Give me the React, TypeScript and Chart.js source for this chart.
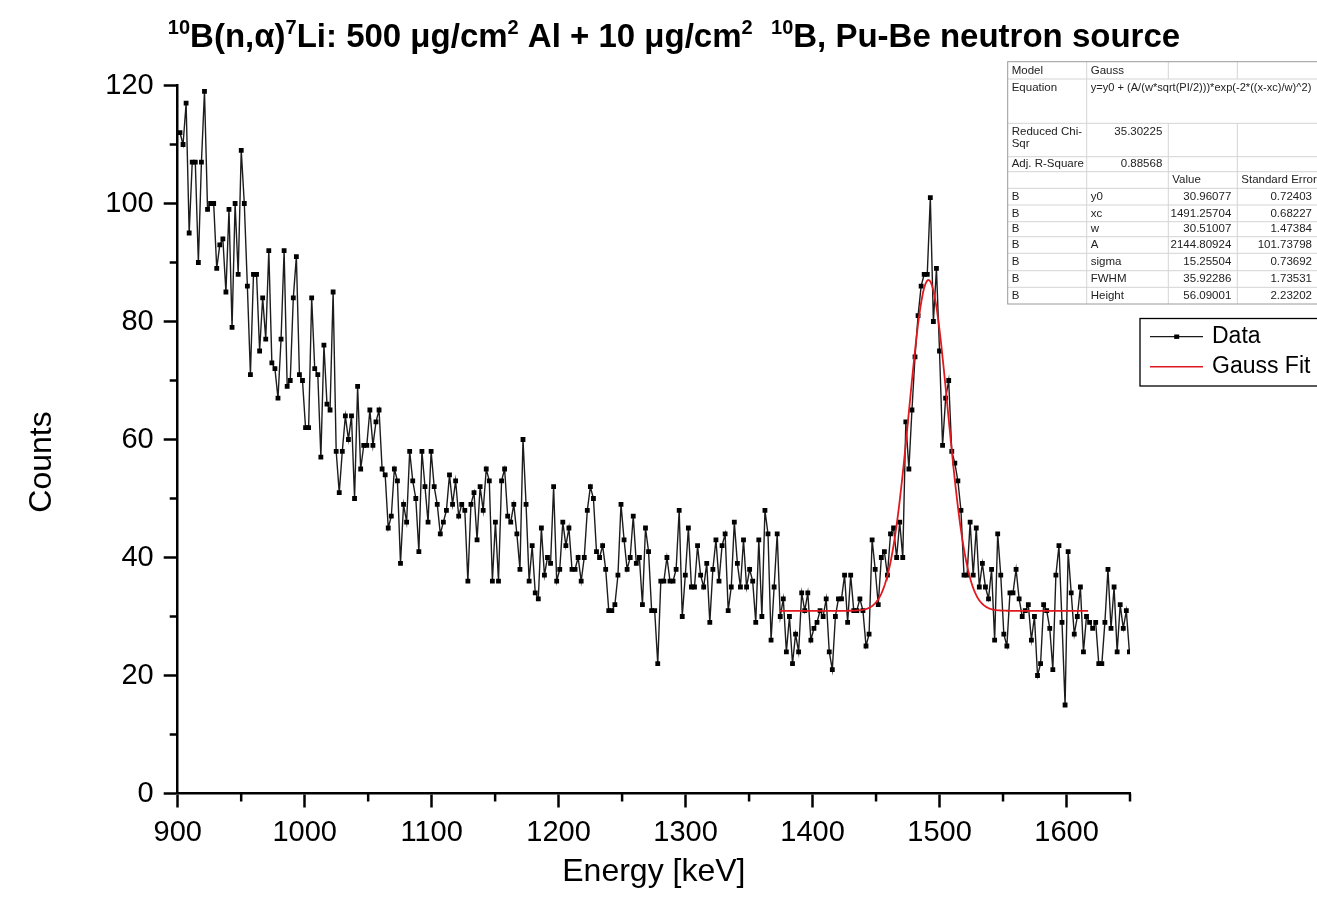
import React, { useEffect, useRef } from "react";
import { Chart, registerables } from "chart.js";
Chart.register(...registerables);

// ---- data ----
const energyStartKeV = 901.8; // energy of first channel
const energyStepKeV = 2.412; // keV per channel
const counts = [
  112, 110, 117, 95, 107, 107, 90, 107, 119, 99, 100, 100, 89, 93, 94, 85, 99, 79, 100, 88,
  109, 100, 86, 71, 88, 88, 75, 84, 77, 92, 73, 72, 67, 77, 92, 69, 70, 84, 91, 71,
  70, 62, 62, 84, 72, 71, 57, 76, 66, 65, 85, 58, 51, 58, 64, 60, 64, 50, 69, 55,
  59, 59, 65, 59, 63, 65, 55, 54, 45, 47, 55, 53, 39, 49, 46, 58, 53, 50, 41, 58,
  52, 46, 58, 52, 49, 44, 46, 48, 54, 49, 53, 47, 49, 48, 36, 49, 51, 43, 52, 48,
  55, 53, 36, 46, 36, 53, 55, 47, 46, 49, 44, 38, 60, 49, 36, 42, 34, 33, 45, 37,
  40, 39, 52, 36, 38, 46, 42, 45, 38, 38, 40, 36, 40, 48, 52, 50, 41, 40, 42, 38,
  31, 31, 32, 37, 49, 43, 38, 40, 47, 39, 40, 32, 45, 41, 31, 31, 22, 36, 36, 40,
  36, 36, 38, 48, 30, 37, 45, 35, 35, 42, 37, 35, 39, 29, 38, 43, 36, 42, 44, 31,
  35, 46, 39, 35, 43, 35, 38, 36, 29, 43, 30, 48, 44, 26, 35, 44, 30, 33, 24, 30,
  22, 27, 24, 34, 31, 34, 26, 28, 29, 31, 30, 33, 24, 21, 30, 33, 33, 37, 29, 37,
  31, 31, 33, 31, 25, 27, 43, 38, 32, 40, 41, 37, 44, 45, 40, 46, 40, 63, 55, 65,
  74, 81, 86, 88, 88, 101, 80, 89, 75, 59, 67, 70, 58, 56, 53, 48, 37, 37, 46, 37,
  45, 35, 39, 35, 33, 38, 26, 44, 37, 27, 25, 34, 34, 38, 33, 30, 31, 32, 26, 30,
  20, 22, 32, 31, 28, 21, 37, 42, 29, 15, 41, 34, 27, 30, 35, 24, 30, 29, 28, 29,
  22, 22, 29, 38, 28, 35, 24, 32, 28, 31, 24,
];

// Gauss fit parameters (from the fit table)
const fitY0 = 30.96077;
const fitXc = 1491.25704;
const fitW = 30.51007;
const fitA = 2144.80924;
const fitRangeKeV = [1374, 1617];

const xTickValues = [900, 1000, 1100, 1200, 1300, 1400, 1500, 1600];
const yTickValues = [0, 20, 40, 60, 80, 100, 120];
const xMinorTicks = [950, 1050, 1150, 1250, 1350, 1450, 1550, 1650];
const yMinorTicks = [10, 30, 50, 70, 90, 110];

const tableRows: string[][] = [
  ["Model", "Gauss", "", ""],
  ["Equation", "y=y0 + (A/(w*sqrt(PI/2)))*exp(-2*((x-xc)/w)^2)", "", ""],
  ["Reduced Chi-|Sqr", "35.30225", "", ""],
  ["Adj. R-Square", "0.88568", "", ""],
  ["", "", "Value", "Standard Error"],
  ["B", "y0", "30.96077", "0.72403"],
  ["B", "xc", "1491.25704", "0.68227"],
  ["B", "w", "30.51007", "1.47384"],
  ["B", "A", "2144.80924", "101.73798"],
  ["B", "sigma", "15.25504", "0.73692"],
  ["B", "FWHM", "35.92286", "1.73531"],
  ["B", "Height", "56.09001", "2.23202"],
];

const FONT = "'Liberation Sans', Arial, sans-serif";

function buildDataPoints() {
  return counts.map((c, i) => ({ x: energyStartKeV + i * energyStepKeV, y: c }));
}

function buildFitPoints() {
  const pts: { x: number; y: number }[] = [];
  for (let e = fitRangeKeV[0]; e <= fitRangeKeV[1]; e += 1) {
    const y =
      fitY0 +
      (fitA / (fitW * Math.sqrt(Math.PI / 2))) * Math.exp(-2 * Math.pow((e - fitXc) / fitW, 2));
    pts.push({ x: e, y });
  }
  return pts;
}

const decorPlugin = {
  id: "decor",
  afterDraw(chart: any) {
    const ctx: CanvasRenderingContext2D = chart.ctx;
    const area = chart.chartArea;
    const xs = chart.scales.x;
    const ys = chart.scales.y;
    ctx.save();

    // minor ticks
    ctx.strokeStyle = "#000";
    ctx.lineWidth = 2.5;
    ctx.lineCap = "butt";
    for (const v of yMinorTicks) {
      const py = ys.getPixelForValue(v);
      ctx.beginPath();
      ctx.moveTo(area.left - 8, py);
      ctx.lineTo(area.left, py);
      ctx.stroke();
    }
    for (const v of xMinorTicks) {
      const px = xs.getPixelForValue(v);
      ctx.beginPath();
      ctx.moveTo(px, area.bottom);
      ctx.lineTo(px, area.bottom + 8);
      ctx.stroke();
    }

    // title with superscripts
    const S = 33;
    const sup = 0.6;
    const parts: [string, boolean][] = [
      ["10", true],
      ["B(n,α)", false],
      ["7", true],
      ["Li: 500 μg/cm", false],
      ["2", true],
      [" Al + 10 μg/cm", false],
      ["2", true],
      ["  ", false],
      ["10", true],
      ["B, Pu-Be neutron source", false],
    ];
    let total = 0;
    for (const [t, s] of parts) {
      ctx.font = `bold ${s ? Math.round(S * sup) : S}px ${FONT}`;
      total += ctx.measureText(t).width;
    }
    let tx = 674 - total / 2;
    const base = 47;
    ctx.fillStyle = "#000";
    ctx.textBaseline = "alphabetic";
    ctx.textAlign = "left";
    for (const [t, s] of parts) {
      ctx.font = `bold ${s ? Math.round(S * sup) : S}px ${FONT}`;
      ctx.fillText(t, tx, s ? base - S * 0.38 : base);
      tx += ctx.measureText(t).width;
    }

    // axis titles
    ctx.font = `32px ${FONT}`;
    ctx.textAlign = "center";
    ctx.textBaseline = "middle";
    ctx.fillText("Energy [keV]", (area.left + area.right) / 2, 872);
    ctx.save();
    ctx.translate(42, 462);
    ctx.rotate(-Math.PI / 2);
    ctx.fillText("Counts", 0, 0);
    ctx.restore();

    // fit table
    const colX = [1007.7, 1086.7, 1168.3, 1237.3, 1318];
    const rowY = [61.7, 79, 123.3, 156.7, 171.7, 188.3, 205, 221.7, 236.7, 253.3, 270.7, 287.3, 304];
    ctx.lineWidth = 1;
    ctx.strokeStyle = "#d4d4d4";
    for (let r = 1; r < rowY.length - 1; r++) {
      ctx.beginPath();
      ctx.moveTo(colX[0], rowY[r]);
      ctx.lineTo(colX[4], rowY[r]);
      ctx.stroke();
    }
    for (let c = 1; c < 4; c++) {
      ctx.beginPath();
      if (c === 1) {
        ctx.moveTo(colX[c], rowY[0]);
        ctx.lineTo(colX[c], rowY[rowY.length - 1]);
      } else {
        ctx.moveTo(colX[c], rowY[0]);
        ctx.lineTo(colX[c], rowY[1]);
        ctx.moveTo(colX[c], rowY[2]);
        ctx.lineTo(colX[c], rowY[rowY.length - 1]);
      }
      ctx.stroke();
    }
    ctx.strokeStyle = "#9a9a9a";
    ctx.strokeRect(colX[0], rowY[0], colX[4] - colX[0], rowY[rowY.length - 1] - rowY[0]);

    ctx.fillStyle = "#222";
    ctx.textBaseline = "middle";
    tableRows.forEach((row, r) => {
      const top = rowY[r];
      const bottom = rowY[r + 1];
      const tall = bottom - top > 20;
      row.forEach((cell, c) => {
        if (!cell) return;
        const lines = cell.split("|");
        const isNum = /^[0-9.]+$/.test(cell);
        lines.forEach((ln, li) => {
          const cy = tall ? top + 8.5 + li * 11.6 : (top + bottom) / 2;
          ctx.font = `11.5px ${FONT}`;
          if (r === 1 && c === 1) {
            const w = ctx.measureText(ln).width;
            const fs = (11.5 * 221) / w;
            ctx.font = `${fs}px ${FONT}`;
          }
          if (isNum) {
            ctx.textAlign = "right";
            ctx.fillText(ln, colX[c + 1] - 6, cy);
          } else {
            ctx.textAlign = "left";
            ctx.fillText(ln, colX[c] + 4, cy);
          }
        });
      });
    });

    // legend
    ctx.strokeStyle = "#000";
    ctx.lineWidth = 1.3;
    ctx.strokeRect(1140, 318.5, 200, 67.5);
    ctx.strokeStyle = "#1a1a1a";
    ctx.beginPath();
    ctx.moveTo(1150, 336.7);
    ctx.lineTo(1203, 336.7);
    ctx.stroke();
    ctx.fillStyle = "#000";
    ctx.fillRect(1176.7 - 2.5, 336.7 - 2.2, 5, 4.4);
    ctx.strokeStyle = "#e0191e";
    ctx.lineWidth = 1.6;
    ctx.beginPath();
    ctx.moveTo(1150, 366.7);
    ctx.lineTo(1203, 366.7);
    ctx.stroke();
    ctx.font = `23px ${FONT}`;
    ctx.fillStyle = "#000";
    ctx.textAlign = "left";
    ctx.textBaseline = "middle";
    ctx.fillText("Data", 1212, 337);
    ctx.fillText("Gauss Fit", 1212, 367);

    ctx.restore();
  },
};

export default function App() {
  const ref = useRef<HTMLCanvasElement | null>(null);
  useEffect(() => {
    if (!ref.current) return;
    const chart = new Chart(ref.current, {
      type: "line",
      data: {
        datasets: [
          {
            label: "Gauss Fit",
            data: buildFitPoints(),
            borderColor: "#e0191e",
            borderWidth: 1.8,
            pointRadius: 0,
            tension: 0,
            order: 0,
          },
          {
            label: "Data",
            data: buildDataPoints(),
            borderColor: "#1c1c1c",
            borderWidth: 1.4,
            pointStyle: "rect",
            pointRadius: 3.4,
            pointBackgroundColor: "#000",
            pointBorderColor: "#000",
            pointBorderWidth: 0,
            tension: 0,
            order: 1,
          },
        ],
      },
      options: {
        responsive: false,
        animation: false,
        events: [],
        layout: { padding: { top: 85.5, right: 187, bottom: 0, left: 0 } },
        plugins: {
          legend: { display: false },
          tooltip: { enabled: false },
          title: { display: false },
        },
        scales: {
          x: {
            type: "linear",
            min: 900,
            max: 1650,
            afterFit: (s: any) => {
              s.height = 911 - 793.5;
            },
            afterBuildTicks: (s: any) => {
              s.ticks = xTickValues.map((v) => ({ value: v }));
            },
            ticks: {
              font: { family: FONT, size: 29 },
              color: "#000",
              padding: 8,
              autoSkip: false,
              maxRotation: 0,
              callback: (v: any) => String(v),
            },
            grid: {
              display: true,
              drawOnChartArea: false,
              drawTicks: true,
              tickLength: 14,
              tickWidth: 2.5,
              tickColor: "#000",
            },
            border: { display: true, color: "#000", width: 2.5 },
          },
          y: {
            type: "linear",
            min: 0,
            max: 120,
            afterFit: (s: any) => {
              s.width = 177.7;
            },
            afterBuildTicks: (s: any) => {
              s.ticks = yTickValues.map((v) => ({ value: v }));
            },
            ticks: {
              font: { family: FONT, size: 29 },
              color: "#000",
              padding: 10,
              callback: (v: any) => String(v),
            },
            grid: {
              display: true,
              drawOnChartArea: false,
              drawTicks: true,
              tickLength: 14,
              tickWidth: 2.5,
              tickColor: "#000",
            },
            border: { display: true, color: "#000", width: 2.5 },
          },
        },
      },
      plugins: [decorPlugin],
    });
    return () => chart.destroy();
  }, []);
  return (
    <div style={{ position: "fixed", left: 0, top: 0, width: 1317, height: 911, background: "#fff" }}>
      <canvas ref={ref} width={1317} height={911} style={{ width: 1317, height: 911, display: "block" }} />
    </div>
  );
}
